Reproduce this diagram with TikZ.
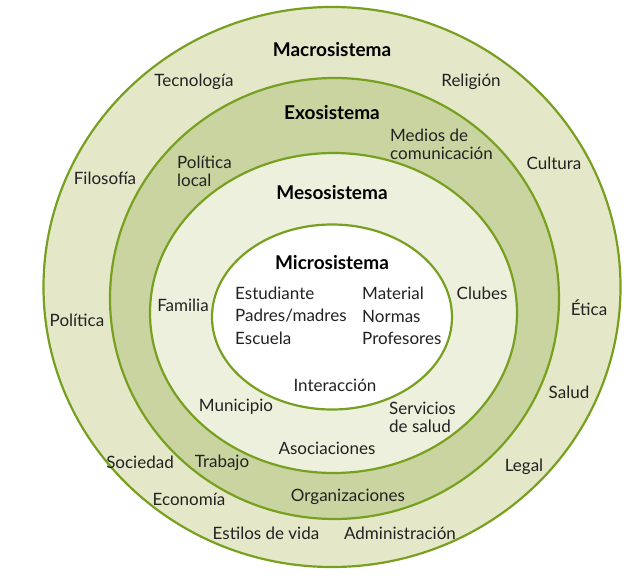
\documentclass[tikz,border=0pt]{standalone}
\usepackage{fontspec}
\setmainfont{Lato}
\definecolor{ring}{HTML}{78A020}
\definecolor{macfill}{HTML}{E4E8C9}
\definecolor{exofill}{HTML}{C9D4A0}
\definecolor{mesfill}{HTML}{EDF0DC}
\definecolor{txt}{HTML}{222222}
\tikzset{
  ringline/.style={draw=ring, line width=2.2pt},
  lbl/.style={text=txt, font=\fontsize{17}{18}\selectfont, inner sep=0pt},
  lbll/.style={lbl, anchor=west},
  ttl/.style={text=black, font=\fontsize{19}{20}\selectfont\bfseries, inner sep=0pt},
  two/.style={lbl, align=left, anchor=west, font=\fontsize{17}{18}\selectfont},
}
\begin{document}
\begin{tikzpicture}[x=1pt,y=-1pt]
\useasboundingbox (0,0) rectangle (642,578);
\fill[white] (0,0) rectangle (642,578);
% rings
\fill[macfill, ringline] (332,287) ellipse [x radius=288.5pt, y radius=280pt];
\fill[exofill, ringline] (334.5,298.5) ellipse [x radius=224.5pt, y radius=220.5pt];
\fill[mesfill, ringline] (333.5,313) ellipse [x radius=183.5pt, y radius=160pt];
\fill[white, ringline] (332,317) ellipse [x radius=120pt, y radius=92.5pt];
% titles
\node[ttl] (macro) at (332,50) {Macrosistema};
\node[ttl] (exo) at (332,113) {Exosistema};
\node[ttl] (meso) at (332,193) {Mesosistema};
\node[ttl] (micro) at (332,263) {Microsistema};
% macro labels
\node[lbl] (tec) at (194,82) {Tecnología};
\node[lbl] (rel) at (471,82) {Religión};
\node[lbl] (cul) at (554,163) {Cultura};
\node[lbl] (fil) at (105,178) {Filosofía};
\node[lbl] (pol) at (77,320) {Política};
\node[lbl] (eti) at (589,308) {Ética};
\node[lbl] (sal) at (569,392) {Salud};
\node[lbl] (soc) at (140,462) {Sociedad};
\node[lbl] (leg) at (524,467) {Legal};
\node[lbl] (eco) at (189,499) {Economía};
\node[lbl] (est) at (266,533) {Estilos de vida};
\node[lbl] (adm) at (400,533) {Administración};
% exo labels
\node[two] (med) at (390,144) {Medios de\\comunicación};
\node[two] (polloc) at (177,171) {Política\\local};
\node[lbl] (tra) at (222,463) {Trabajo};
\node[lbl] (org) at (348,497) {Organizaciones};
% meso labels
\node[lbl] (fam) at (183,305) {Familia};
\node[lbl] (clu) at (482,293) {Clubes};
\node[lbl] (int) at (335,385) {Interacción};
\node[lbl] (mun) at (236,407) {Municipio};
\node[two] (ser) at (389,417.5) {Servicios\\de salud};
\node[lbl] (aso) at (327,448) {Asociaciones};
% micro labels
\node[lbll] (estu) at (235,293) {Estudiante};
\node[lbll] (pad) at (235,316) {Padres/madres};
\node[lbll] (esc) at (235,338) {Escuela};
\node[lbll] (mat) at (362,293) {Material};
\node[lbll] (nor) at (362,316) {Normas};
\node[lbll] (pro) at (362,338) {Profesores};
\end{tikzpicture}
\end{document}
